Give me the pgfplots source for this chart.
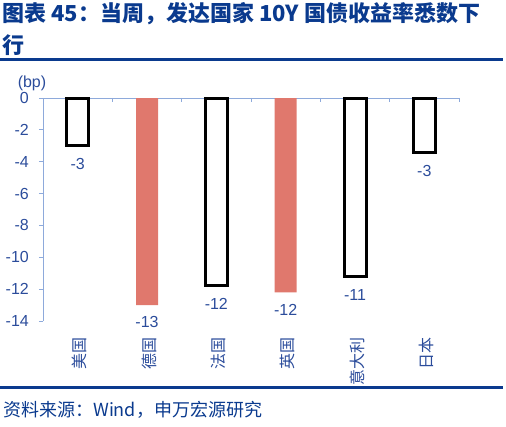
\documentclass[border=0pt]{standalone}
\usepackage{pgfplots}
\pgfplotsset{compat=1.18}
\usepackage{fontspec}
\setmainfont{Liberation Sans}
\newfontfamily\cjk{Noto Sans CJK SC}

\definecolor{titleblue}{HTML}{0A3A8E}
\definecolor{textblue}{HTML}{2B4C9B}
\definecolor{axisblue}{HTML}{8EAADB}
\definecolor{barred}{HTML}{E0786D}

\begin{document}
\begin{tikzpicture}
% page frame (origin = lower left corner of the plot area)
\path (-43pt,-105pt) rectangle (463pt,321pt);

% title
\node[anchor=west, inner sep=0pt, text=titleblue, font=\cjk\bfseries\fontsize{22}{26}\selectfont]
  at (-41pt,307.5pt) {图表 45：当周，发达国家 10Y 国债收益率悉数下};
\node[anchor=west, inner sep=0pt, text=titleblue, font=\cjk\bfseries\fontsize{22}{26}\selectfont]
  at (-41pt,276pt) {行};
\fill[titleblue] (-43pt,259.5pt) rectangle (460pt,262.5pt);

% unit
\node[inner sep=0pt, text=textblue, font=\fontsize{16}{19}\selectfont] at (-11pt,238pt) {(bp)};

% zero line with category separators
\begin{axis}[
  scale only axis,
  width=416pt, height=223pt,
  xmin=-0.5, xmax=5.5, ymin=-14, ymax=0,
  axis x line=top, axis y line=none,
  x axis line style={-, color=axisblue, line width=0.8pt},
  xtick={-0.5,0.5,1.5,2.5,3.5,4.5,5.5},
  xticklabels={},
  tick align=inside,
  major tick length=4pt,
  xtick style={color=axisblue, line width=0.8pt},
]
\end{axis}

\begin{axis}[
  scale only axis,
  width=416pt, height=223pt,
  xmin=-0.5, xmax=5.5, ymin=-14, ymax=0,
  clip=false,
  axis y line=left, axis x line=bottom,
  x axis line style={draw=none},
  y axis line style={-, color=axisblue, line width=0.8pt},
  xtick={0,1,2,3,4,5},
  xticklabels={美国,德国,法国,英国,意大利,日本},
  xtick style={draw=none},
  xticklabel style={font=\cjk\fontsize{16}{19}\selectfont, rotate=90, anchor=east,
    text=textblue, inner sep=0pt, xshift=-12pt, yshift=-2pt},
  ytick={-14,-12,-10,-8,-6,-4,-2,0},
  ytick style={color=axisblue, line width=0.8pt},
  tick align=outside,
  major tick length=4pt,
  yticklabel style={font=\fontsize{16}{19}\selectfont, text=textblue, anchor=east,
    inner sep=0pt, xshift=-10pt},
  /pgf/number format/assume math mode=true,
  ybar, bar width=22pt, bar shift=0pt,
  point meta=explicit symbolic,
  nodes near coords,
  nodes near coords style={font=\fontsize{16}{19}\selectfont, text=textblue,
    anchor=north, yshift=-8pt},
]
\addplot[fill=white, draw=black, line width=3pt]
coordinates{
  (0,-3.0) [-3]
  (2,-11.8) [-12]
  (4,-11.2) [-11]
  (5,-3.4) [-3]
};
\addplot[fill=barred, draw=none]
coordinates{
  (1,-13.0) [-13]
  (3,-12.2) [-12]
};
\end{axis}

% source
\fill[titleblue] (-43pt,-68pt) rectangle (460pt,-65pt);
\node[anchor=west, inner sep=0pt, text=titleblue, font=\cjk\fontsize{18}{21}\selectfont]
  at (-40pt,-89pt) {资料来源：Wind，申万宏源研究};
\end{tikzpicture}
\end{document}
